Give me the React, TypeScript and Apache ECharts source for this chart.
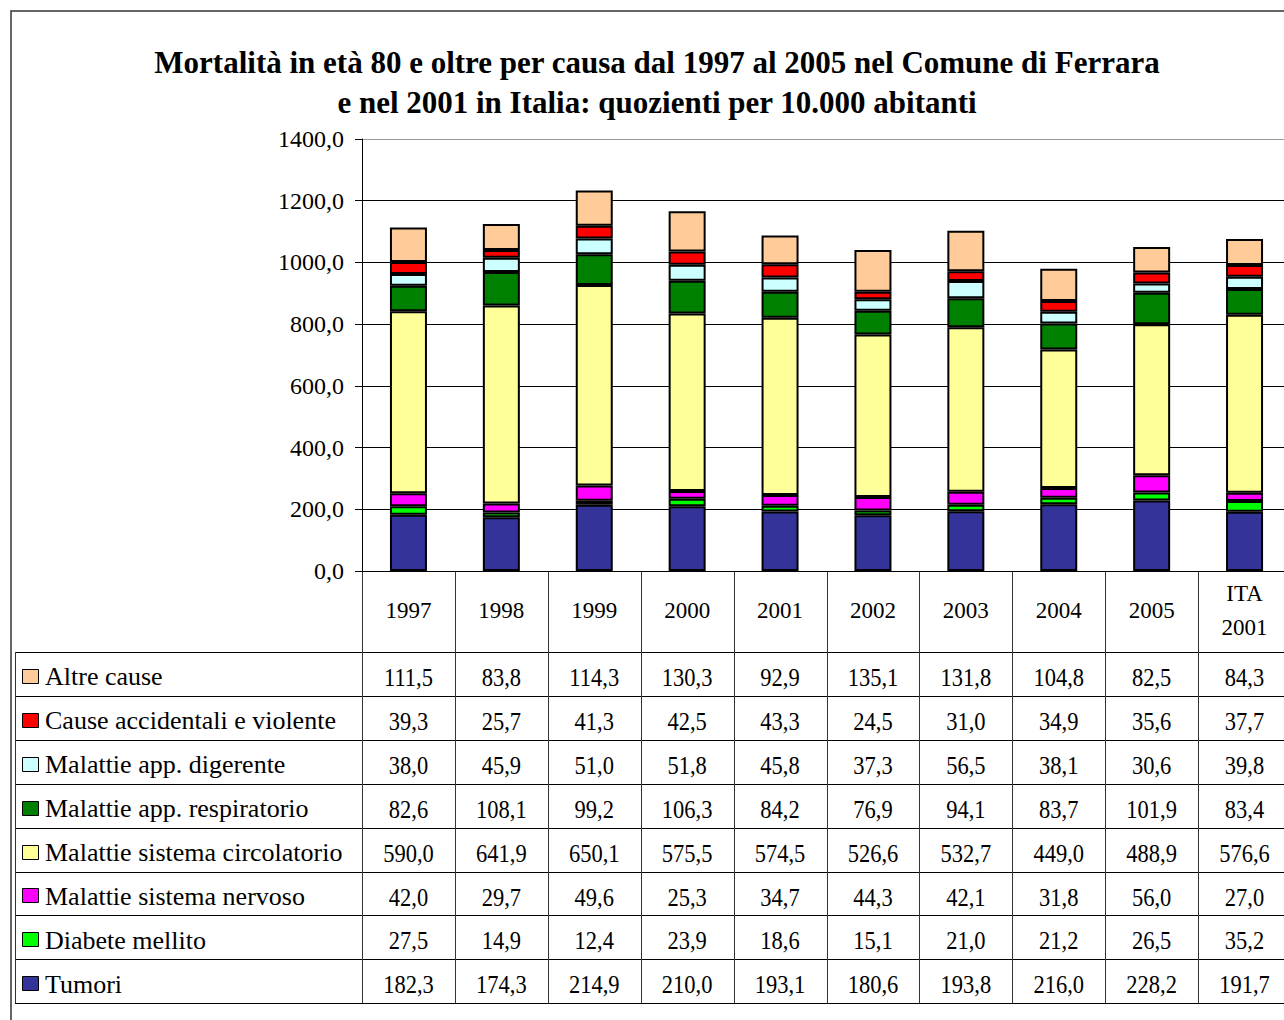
import React, { useEffect, useRef } from "react";
import * as echarts from "echarts";

const categories = ["1997", "1998", "1999", "2000", "2001", "2002", "2003", "2004", "2005", "ITA\n2001"];
const tumori = [182.3, 174.3, 214.9, 210.0, 193.1, 180.6, 193.8, 216.0, 228.2, 191.7];
const diabete = [27.5, 14.9, 12.4, 23.9, 18.6, 15.1, 21.0, 21.2, 26.5, 35.2];
const nervoso = [42.0, 29.7, 49.6, 25.3, 34.7, 44.3, 42.1, 31.8, 56.0, 27.0];
const circolatorio = [590.0, 641.9, 650.1, 575.5, 574.5, 526.6, 532.7, 449.0, 488.9, 576.6];
const respiratorio = [82.6, 108.1, 99.2, 106.3, 84.2, 76.9, 94.1, 83.7, 101.9, 83.4];
const digerente = [38.0, 45.9, 51.0, 51.8, 45.8, 37.3, 56.5, 38.1, 30.6, 39.8];
const accidentali = [39.3, 25.7, 41.3, 42.5, 43.3, 24.5, 31.0, 34.9, 35.6, 37.7];
const altre = [111.5, 83.8, 114.3, 130.3, 92.9, 135.1, 131.8, 104.8, 82.5, 84.3];

// bottom to top stack order
const seriesNames = [
  "Tumori",
  "Diabete mellito",
  "Malattie sistema nervoso",
  "Malattie sistema circolatorio",
  "Malattie app. respiratorio",
  "Malattie app. digerente",
  "Cause accidentali e violente",
  "Altre cause",
];
const seriesValues = [tumori, diabete, nervoso, circolatorio, respiratorio, digerente, accidentali, altre];
const seriesColors = ["#333399", "#00FF00", "#FF00FF", "#FFFF99", "#008000", "#CCFFFF", "#FF0000", "#FFCC99"];

const yMin = 0;
const yMax = 1400;
const yInterval = 200;

const titleLines = [
  "Mortalità in età 80 e oltre per causa dal 1997 al 2005 nel Comune di Ferrara",
  "e nel 2001 in Italia: quozienti per 10.000 abitanti",
];

const FONT = "Liberation Serif";
const fmt = (v: number) => v.toFixed(1).replace(".", ",");

export default function App() {
  const ref = useRef<HTMLDivElement>(null);
  useEffect(() => {
    document.body.style.margin = "0";
    if (!ref.current) return;
    const chart = echarts.init(ref.current, null, { renderer: "svg" });
    const gridLeft = 362;
    const gridTop = 139;
    const gridRight = 9;
    const gridBottom = 449;
    chart.setOption({
      animation: false,
      backgroundColor: "#ffffff",
      textStyle: { fontFamily: FONT },
      grid: { left: gridLeft, top: gridTop, right: gridRight, bottom: gridBottom, containLabel: false },
      xAxis: {
        type: "category",
        data: categories,
        axisLine: { show: true, lineStyle: { color: "#000", width: 1 } },
        axisTick: { show: false },
        axisLabel: {
          show: true,
          interval: 0,
          margin: 39,
          fontFamily: FONT,
          fontSize: 23,
          color: "#000",
          lineHeight: 34,
          verticalAlign: "middle",
        },
      },
      yAxis: {
        type: "value",
        min: yMin,
        max: yMax,
        interval: yInterval,
        axisLine: { show: true, lineStyle: { color: "#000", width: 1 } },
        axisTick: { show: true, length: 7, lineStyle: { color: "#000" } },
        axisLabel: {
          margin: 18,
          fontFamily: FONT,
          fontSize: 24,
          color: "#000",
          formatter: (v: number) => fmt(v),
        },
        splitLine: {
          show: true,
          lineStyle: { color: ["#000", "#000", "#000", "#000", "#000", "#000", "#000", "#999"], width: 1 },
        },
      },
      series: seriesNames.map((name, i) => ({
        name,
        type: "bar",
        stack: "total",
        barWidth: 37,
        data: seriesValues[i],
        itemStyle: { color: seriesColors[i], borderColor: "#000", borderWidth: 2 },
      })),
    });

    const n = categories.length;
    const centers = categories.map((_, i) => chart.convertToPixel({ xAxisIndex: 0 }, i) as number);
    const band = centers[1] - centers[0];
    const bounds = [centers[0] - band / 2, ...centers.map((c) => c + band / 2)];
    const yZero = chart.convertToPixel({ yAxisIndex: 0 }, 0) as number;
    const tableTop = 652;
    const rowH = 43.9;
    const tableLeft = 15;
    const rows = seriesNames.length;
    const tableBottom = tableTop + rowH * rows;
    const right = bounds[n];

    const elements: any[] = [];
    elements.push({
      type: "rect",
      shape: { x: 11, y: 11, width: 1400, height: 1100 },
      style: { fill: "none", stroke: "#333", lineWidth: 1.5 },
      silent: true,
    });
    titleLines.forEach((t, i) => {
      elements.push({
        type: "text",
        x: 657,
        y: 62 + i * 40,
        style: {
          text: t,
          fontFamily: FONT,
          fontSize: 31,
          fontWeight: "bold",
          fill: "#000",
          align: "center",
          verticalAlign: "middle",
        },
        silent: true,
      });
    });
    for (let k = 0; k <= rows; k++) {
      const y = Math.round(tableTop + rowH * k) + 0.5;
      elements.push({
        type: "line",
        shape: { x1: tableLeft, y1: y, x2: right, y2: y },
        style: { stroke: "#000", lineWidth: 1 },
        silent: true,
      });
    }
    elements.push({
      type: "line",
      shape: { x1: tableLeft + 0.5, y1: tableTop, x2: tableLeft + 0.5, y2: tableBottom },
      style: { stroke: "#333", lineWidth: 1 },
      silent: true,
    });
    bounds.forEach((b) => {
      const x = Math.round(b) + 0.5;
      elements.push({
        type: "line",
        shape: { x1: x, y1: yZero, x2: x, y2: tableBottom },
        style: { stroke: "#333", lineWidth: 1 },
        silent: true,
      });
    });
    for (let r = 0; r < rows; r++) {
      const si = rows - 1 - r;
      const cy = tableTop + rowH * (r + 0.5) + 3;
      elements.push({
        type: "rect",
        shape: { x: 22.5, y: Math.round(cy - 8) + 0.5, width: 16, height: 14 },
        style: { fill: seriesColors[si], stroke: "#000", lineWidth: 1 },
        silent: true,
      });
      elements.push({
        type: "text",
        x: 45,
        y: cy,
        style: {
          text: seriesNames[si],
          fontFamily: FONT,
          fontSize: 26,
          fill: "#000",
          align: "left",
          verticalAlign: "middle",
        },
        silent: true,
      });
      seriesValues[si].forEach((v, ci) => {
        elements.push({
          type: "text",
          x: centers[ci],
          y: cy,
          scaleY: 1.15,
          style: {
            text: fmt(v),
            fontFamily: FONT,
            fontSize: 22.5,
            fill: "#000",
            align: "center",
            verticalAlign: "middle",
          },
          silent: true,
        });
      });
    }
    chart.setOption({ graphic: { elements } });

    return () => chart.dispose();
  }, []);
  return (
    <div style={{ width: 1284, height: 1020, overflow: "hidden", position: "relative" }}>
      <div ref={ref} style={{ width: 1300, height: 1020 }} />
    </div>
  );
}
